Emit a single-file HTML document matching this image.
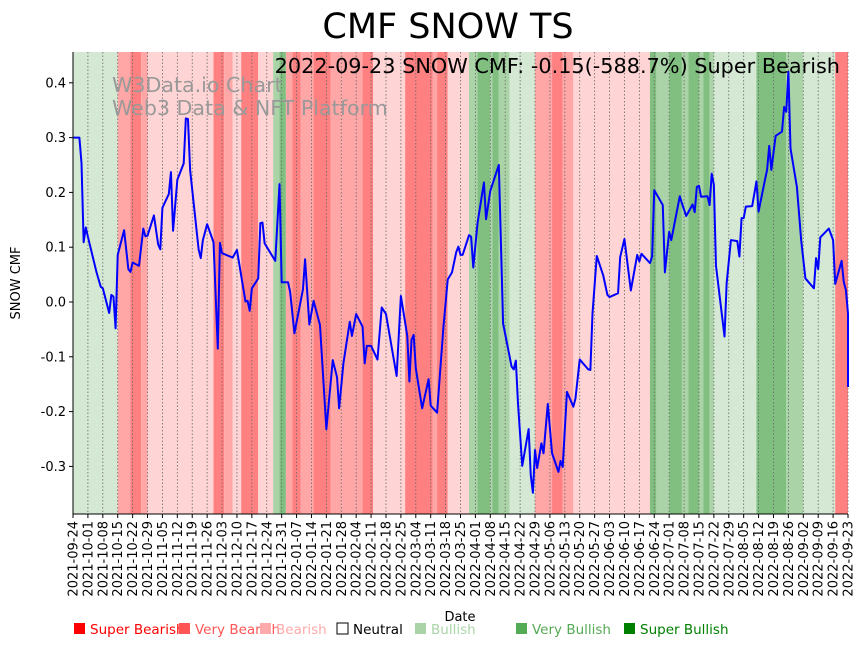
<!DOCTYPE html>
<html><head><meta charset="utf-8"><style>
html,body{margin:0;padding:0;background:#fff;}
svg{display:block;font-family:"DejaVu Sans","Liberation Sans",sans-serif;}
</style></head><body>
<svg id="chart" width="864" height="646" viewBox="0 0 864 646" xmlns="http://www.w3.org/2000/svg">
<rect width="864" height="646" fill="#fff"/>
<g id="bands"></g>
<g id="grid"></g>
<text x="448" y="38" font-size="35" text-anchor="middle">CMF SNOW TS</text>
<text x="112" y="92" font-size="20.6" fill="#999">W3Data.io Chart</text>
<text x="112" y="115" font-size="20.6" fill="#999">Web3 Data &amp; NFT Platform</text>
<g id="series"></g>
<text x="840" y="73" font-size="20.8" text-anchor="end">2022-09-23 SNOW CMF: -0.15(-588.7%) Super Bearish</text>
<g id="axes"></g>
<text transform="translate(20,283) rotate(-90)" font-size="13" text-anchor="middle">SNOW CMF</text>
<text x="460" y="621" font-size="13" text-anchor="middle">Date</text>
<g id="legend"></g>
</svg>
<script>
const dayOffsets=[0,3,4,5,6,7,11,13,14,17,18,19,20,21,24,26,27,28,31,33,34,35,38,40,41,42,45,46,47,49,52,53,54,55,59,60,61,63,66,68,69,70,75,77,81,82,83,84,87,88,89,90,95,97,98,101,102,104,108,109,111,113,116,119,122,124,125,127,130,131,133,136,137,138,140,143,145,147,152,154,157,158,159,160,161,164,167,168,171,174,176,178,180,181,182,183,186,187,188,190,193,194,196,200,202,206,207,208,209,211,214,215,216,217,218,220,221,223,225,228,229,230,232,235,236,238,242,243,244,246,249,251,252,256,257,259,262,265,266,267,271,272,273,277,278,280,281,285,286,288,291,292,293,294,295,298,299,300,301,302,306,307,309,312,313,314,315,316,319,321,322,325,326,327,328,330,333,334,335,336,337,340,342,344,348,349,350,351,355,357,358,361,362,363,364,365];
const cmfValues=[0.300,0.300,0.253,0.109,0.136,0.119,0.055,0.028,0.025,-0.020,0.013,0.010,-0.048,0.086,0.131,0.060,0.055,0.072,0.066,0.134,0.120,0.121,0.158,0.105,0.096,0.172,0.197,0.237,0.130,0.223,0.253,0.335,0.334,0.241,0.096,0.080,0.113,0.142,0.109,-0.085,0.108,0.089,0.081,0.095,0.001,0.002,-0.016,0.025,0.043,0.144,0.145,0.107,0.075,0.215,0.036,0.036,0.018,-0.057,0.023,0.078,-0.041,0.002,-0.042,-0.232,-0.106,-0.137,-0.194,-0.112,-0.036,-0.062,-0.022,-0.045,-0.112,-0.080,-0.080,-0.105,-0.010,-0.022,-0.135,0.011,-0.062,-0.145,-0.069,-0.060,-0.121,-0.194,-0.141,-0.189,-0.202,-0.045,0.041,0.054,0.091,0.101,0.086,0.086,0.122,0.119,0.063,0.144,0.218,0.151,0.203,0.250,-0.039,-0.118,-0.123,-0.107,-0.185,-0.299,-0.232,-0.316,-0.348,-0.270,-0.303,-0.258,-0.276,-0.186,-0.276,-0.310,-0.290,-0.301,-0.164,-0.191,-0.176,-0.105,-0.123,-0.124,-0.021,0.084,0.049,0.013,0.009,0.016,0.082,0.115,0.021,0.086,0.074,0.088,0.071,0.083,0.204,0.177,0.054,0.128,0.113,0.193,0.180,0.157,0.178,0.164,0.210,0.212,0.192,0.193,0.177,0.234,0.214,0.066,-0.063,0.034,0.113,0.111,0.083,0.153,0.153,0.174,0.175,0.220,0.165,0.223,0.241,0.285,0.241,0.303,0.311,0.356,0.347,0.420,0.280,0.210,0.113,0.043,0.025,0.080,0.060,0.118,0.134,0.113,0.033,0.075,0.037,0.022,-0.021,-0.155];
const bandStarts=[0,21,27,32,35,66,71,75,79,87,94,97,100,103,107,113,121,126,136,141,156,169,171,176,186,190,196,197,200,205,217,225,230,235,271,274,280,286,289,294,296,299,301,321,335,343,358];
const bandEnds=[21,27,32,35,66,71,75,79,87,94,97,100,103,107,113,121,126,136,141,156,169,171,176,186,190,196,197,200,205,217,225,230,235,271,274,280,286,289,294,296,299,301,321,335,343,358,365];
const bandLevels=[1,-2,-3,-2,-1,-3,-2,-1,-3,-1,2,3,-2,-3,-2,-3,-2,-2,-3,-1,-3,-2,-3,-1,2,3,2,3,2,1,-2,-3,-2,-1,3,2,3,2,3,2,3,2,1,3,2,1,-3];
const yTicks=[-0.3,-0.2,-0.1,0.0,0.1,0.2,0.3,0.4];
const legendLabels=["Super Bearish","Very Bearish","Bearish","Neutral","Bullish","Very Bullish","Super Bullish"];
const legendColors=["#ff0000","#ff5555","#ffaaaa","#000000","#aad4a8","#55aa55","#008000"];

const NS="http://www.w3.org/2000/svg";
const PL=73,PR=848,PT=52,PB=514,DMAX=364;
const xs=d=>PL+d*(PR-PL)/DMAX;
const ys=v=>302-v*548;
const bandColor={"-3":"#ff8080","-2":"#ffa6a6","-1":"#ffd4d4","0":"#ffffff","1":"#d5e8d4","2":"#aad4a8","3":"#80bf80"};
function mk(tag,attrs,parent){const e=document.createElementNS(NS,tag);for(const k in attrs)e.setAttribute(k,attrs[k]);parent.appendChild(e);return e;}

const bands=document.getElementById('bands');
for(let i=0;i<bandStarts.length;i++){
  const x0=Math.max(PL,xs(bandStarts[i])),x1=Math.min(PR,xs(bandEnds[i]));
  const r=mk('rect',{x:x0,y:PT,width:Math.max(0,x1-x0),height:PB-PT,fill:bandColor[bandLevels[i]]},bands);
  
  
}
const grid=document.getElementById('grid');
const axes=document.getElementById('axes');
const base=Date.UTC(2021,8,24);
for(let d=0;d<=DMAX;d+=7){
  const x=xs(d);
  const g=mk('line',{x1:x,x2:x,y1:PT,y2:PB,stroke:'#666','stroke-width':0.8,'stroke-dasharray':'1.5,2'},grid);
  
  
  mk('line',{x1:x,x2:x,y1:PB,y2:PB+4,stroke:'#000','stroke-width':1},axes);
  const dt=new Date(base+d*86400000).toISOString().slice(0,10);
  const t=mk('text',{transform:`translate(${x+4.5},${PB+7}) rotate(-90)`,'font-size':13,'text-anchor':'end'},axes);
  t.textContent=dt;
  
  
}
yTicks.forEach(v=>{
  const y=ys(v);
  mk('line',{x1:PL-4,x2:PL,y1:y,y2:y,stroke:'#000','stroke-width':1},axes);
  const t=mk('text',{x:PL-7,y:y+4.5,'font-size':13,'text-anchor':'end'},axes);
  t.textContent=v.toFixed(1);
  
  
});
mk('line',{x1:PL,x2:PL,y1:PT,y2:PB,stroke:'#000','stroke-width':1},axes);
mk('line',{x1:PL,x2:PR,y1:PB,y2:PB,stroke:'#000','stroke-width':1},axes);

const series=document.getElementById('series');
const pts=dayOffsets.map((d,i)=>xs(Math.min(d,DMAX))+','+ys(cmfValues[i])).join(' ');
const line=mk('polyline',{points:pts,fill:'none',stroke:'#0000ff','stroke-width':2,'stroke-linejoin':'round'},series);



const legend=document.getElementById('legend');
const legendX=[73,178,259,336,414,515,623];
legendLabels.forEach((lab,i)=>{
  const x=legendX[i];
  const sq=mk('rect',{x:x+1,y:623,width:11,height:11,fill:i===3?'none':legendColors[i],stroke:i===3?'#000':'none','stroke-width':1},legend);
  
  
  const t=mk('text',{x:x+17,y:634,'font-size':13.5,fill:legendColors[i]},legend);
  t.textContent=lab;
  
  
});
</script>
</body></html>
